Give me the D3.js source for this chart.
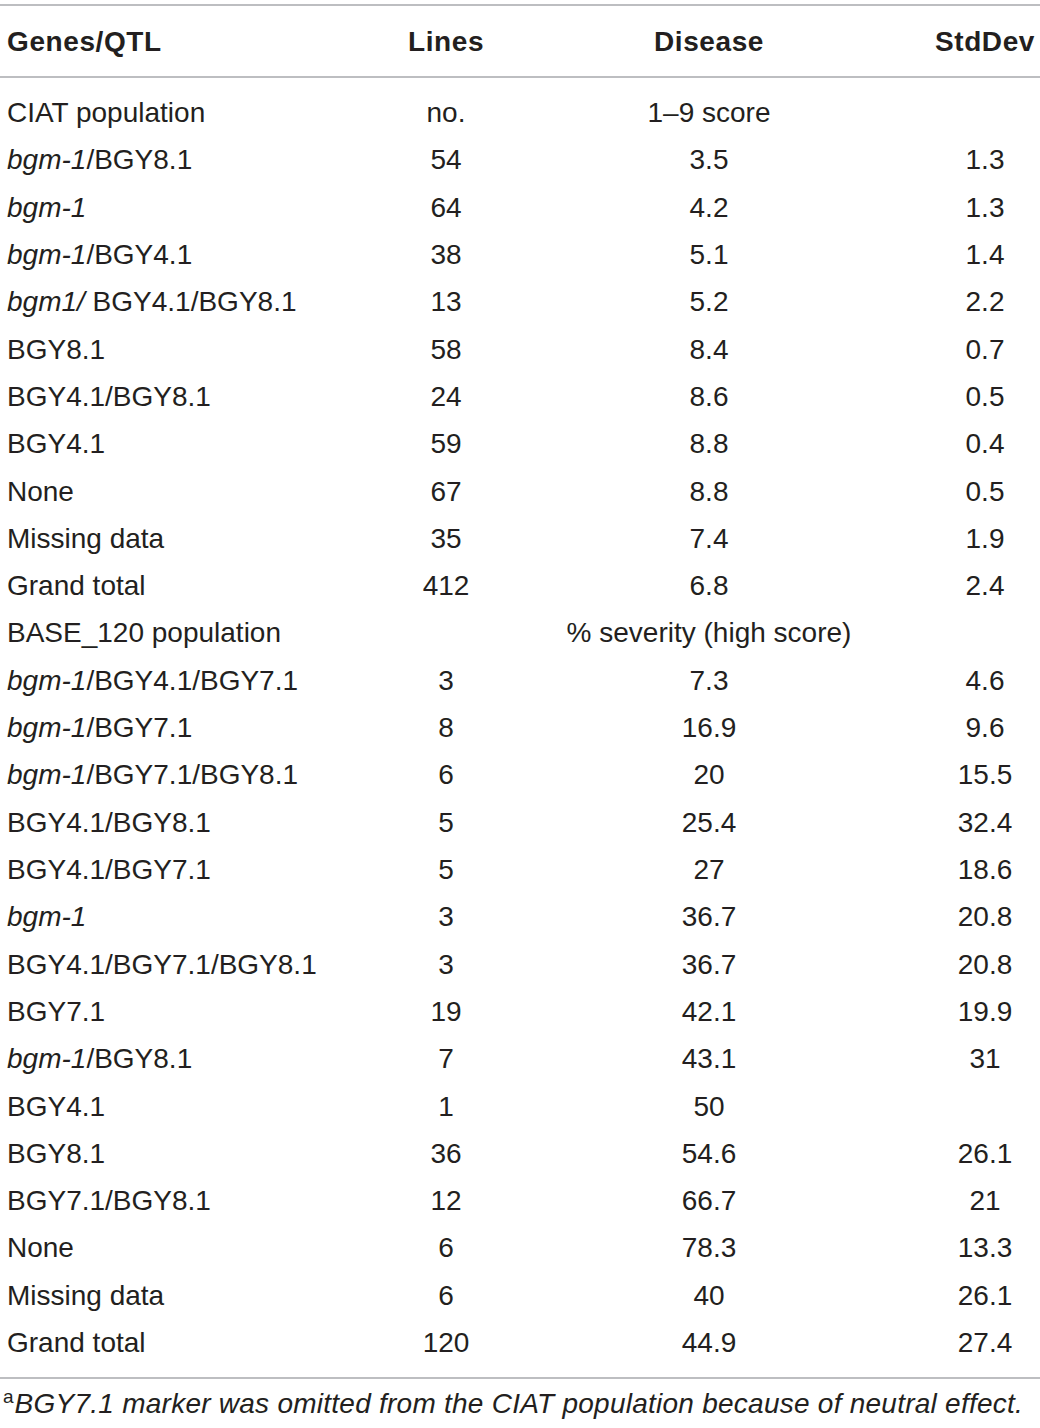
<!DOCTYPE html>
<html>
<head>
<meta charset="utf-8">
<script src="https://cdn.jsdelivr.net/npm/d3@7"></script>
<style>
  html, body { margin: 0; padding: 0; background: #fff; }
  svg text { font-family: "Liberation Sans", Arial, sans-serif; fill: #231f20; }
</style>
</head>
<body>
<svg id="chart"></svg>
<script>
// column headers
var headers = ["Genes/QTL", "Lines", "Disease", "StdDev"];

// row labels; text between * * is italic
var genes = [
    "CIAT population",
    "*bgm-1*/BGY8.1",
    "*bgm-1*",
    "*bgm-1*/BGY4.1",
    "*bgm1/* BGY4.1/BGY8.1",
    "BGY8.1",
    "BGY4.1/BGY8.1",
    "BGY4.1",
    "None",
    "Missing data",
    "Grand total",
    "BASE_120 population",
    "*bgm-1*/BGY4.1/BGY7.1",
    "*bgm-1*/BGY7.1",
    "*bgm-1*/BGY7.1/BGY8.1",
    "BGY4.1/BGY8.1",
    "BGY4.1/BGY7.1",
    "*bgm-1*",
    "BGY4.1/BGY7.1/BGY8.1",
    "BGY7.1",
    "*bgm-1*/BGY8.1",
    "BGY4.1",
    "BGY8.1",
    "BGY7.1/BGY8.1",
    "None",
    "Missing data",
    "Grand total"
];

var lines = ["no.", "54", "64", "38", "13", "58", "24", "59", "67", "35", "412",
             "", "3", "8", "6", "5", "5", "3", "3", "19", "7", "1", "36", "12", "6", "6", "120"];

var disease = ["1–9 score", "3.5", "4.2", "5.1", "5.2", "8.4", "8.6", "8.8", "8.8", "7.4", "6.8",
               "% severity (high score)", "7.3", "16.9", "20", "25.4", "27", "36.7", "36.7", "42.1",
               "43.1", "50", "54.6", "66.7", "78.3", "40", "44.9"];

var stdDev = ["", "1.3", "1.3", "1.4", "2.2", "0.7", "0.5", "0.4", "0.5", "1.9", "2.4",
              "", "4.6", "9.6", "15.5", "32.4", "18.6", "20.8", "20.8", "19.9",
              "31", "", "26.1", "21", "13.3", "26.1", "27.4"];

var footnote = "BGY7.1 marker was omitted from the CIAT population because of neutral effect.";

var width = 1040, height = 1428;
var fontSize = 28;

var svg = d3.select("#chart")
    .attr("width", width)
    .attr("height", height);

// rows
var y = d3.scalePoint()
    .domain(d3.range(genes.length))
    .range([112, 1342]);

// column positions and alignment
var cols = [
    { x: 7, anchor: "start" },
    { x: 446, anchor: "middle" },
    { x: 709, anchor: "middle" },
    { x: 985, anchor: "middle" }
];

// rules
var rules = [5, 77, 1378];
svg.selectAll("line.rule")
    .data(rules)
    .enter().append("line")
    .attr("class", "rule")
    .attr("x1", 0).attr("x2", width)
    .attr("y1", d => d).attr("y2", d => d)
    .attr("stroke", "#a7a9ac")
    .attr("stroke-width", 1.6);

// header
svg.selectAll("text.header")
    .data(headers)
    .enter().append("text")
    .attr("class", "header")
    .attr("x", (d, i) => cols[i].x)
    .attr("y", 41)
    .attr("dy", "0.36em")
    .attr("text-anchor", (d, i) => cols[i].anchor)
    .attr("font-size", fontSize)
    .attr("font-weight", "bold")
    .attr("letter-spacing", 0.6)
    .text(d => d);

// first column with italic parts
var geneText = svg.selectAll("text.gene")
    .data(genes)
    .enter().append("text")
    .attr("class", "gene")
    .attr("x", cols[0].x)
    .attr("y", (d, i) => y(i))
    .attr("dy", "0.36em")
    .attr("font-size", fontSize);

geneText.each(function (d) {
    var parts = d.split("*");
    var t = d3.select(this);
    parts.forEach(function (p, k) {
        if (p === "") return;
        t.append("tspan")
            .attr("font-style", k % 2 == 1 ? "italic" : "normal")
            .text(p);
    });
});

// numeric columns
[lines, disease, stdDev].forEach(function (arr, c) {
    svg.selectAll("text.col" + c)
        .data(arr)
        .enter().append("text")
        .attr("class", "col" + c)
        .attr("x", cols[c + 1].x)
        .attr("y", (d, i) => y(i))
        .attr("dy", "0.36em")
        .attr("text-anchor", "middle")
        .attr("font-size", fontSize)
        .text(d => d);
});

// footnote
var fn = svg.append("text")
    .attr("x", 3)
    .attr("y", 1413)
    .attr("font-size", 28);
fn.append("tspan")
    .attr("font-size", 19)
    .attr("dy", -10)
    .text("a");
fn.append("tspan")
    .attr("dy", 10)
    .attr("dx", 1)
    .attr("font-style", "italic")
    .attr("letter-spacing", 0.25)
    .text(footnote);
</script>
</body>
</html>
